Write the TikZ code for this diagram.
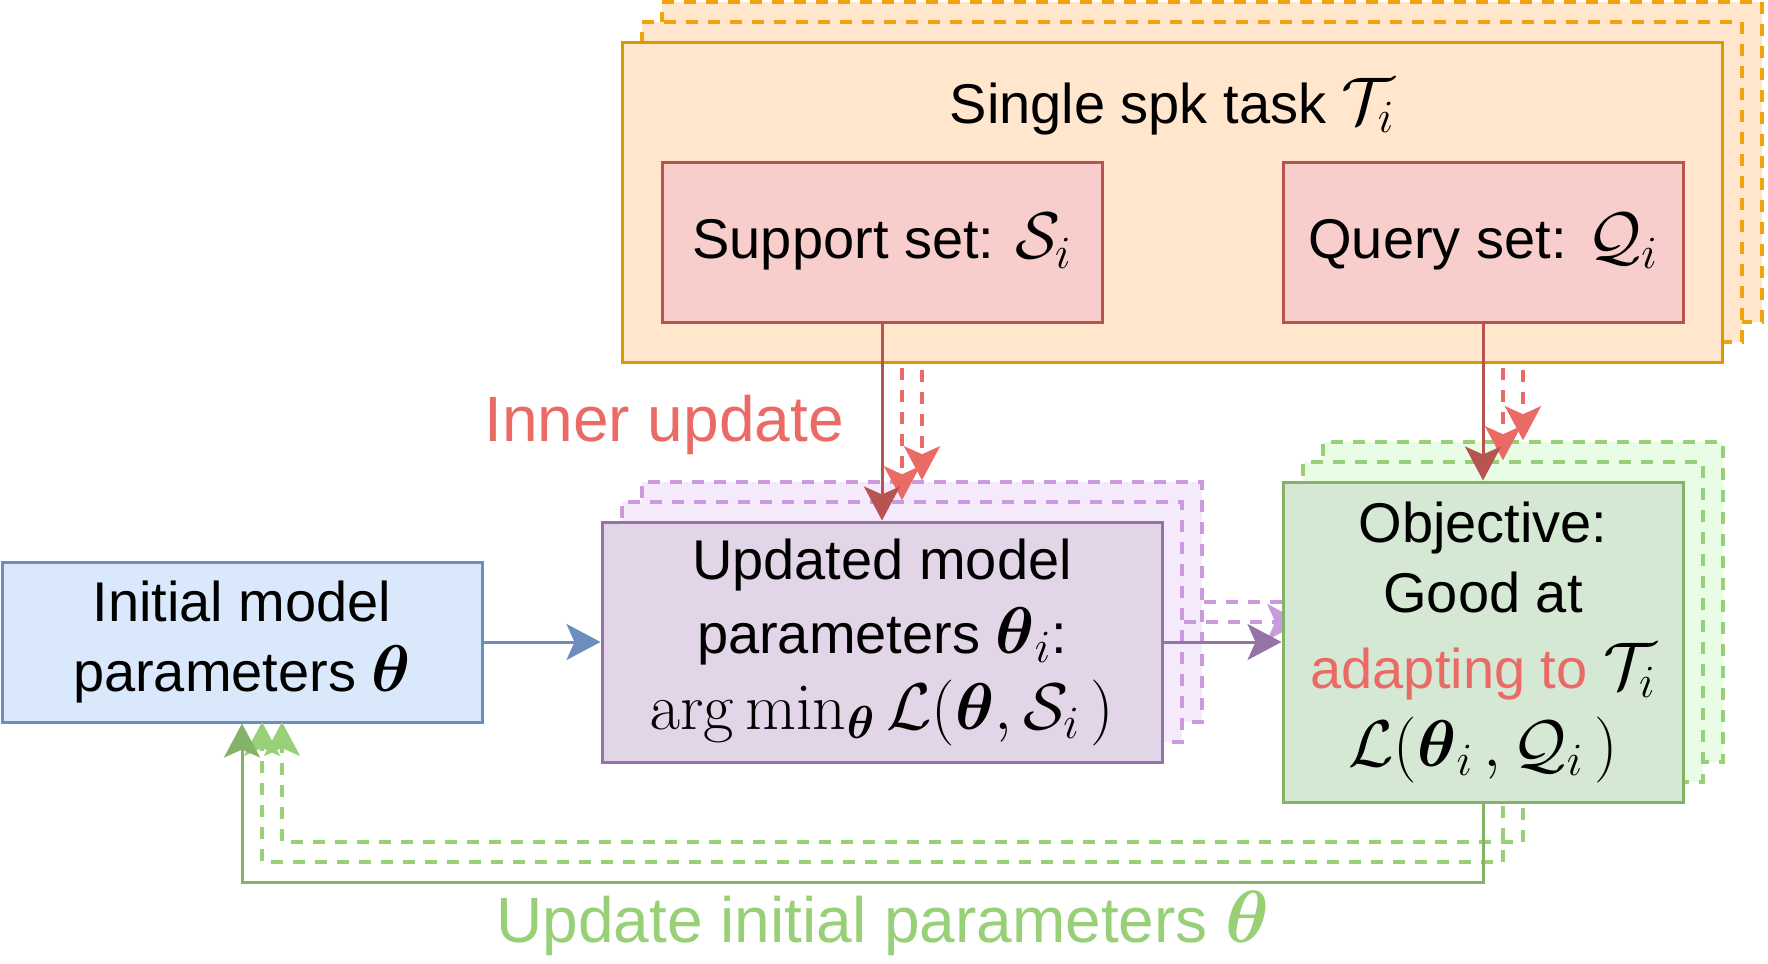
\RequirePackage{fix-cm}
\documentclass[tikz,border=0pt]{standalone}
\usepackage{amsmath}
\usepackage[no-math]{fontspec}
\setmainfont{Liberation Sans}
\usetikzlibrary{arrows.meta}
\newcommand\mymath[1]{{\fontsize{33}{35}\selectfont$#1$}}
\newcommand\mybigmath[1]{{\fontsize{37}{38}\selectfont$#1$}}
\definecolor{orfill}{HTML}{FFE6CC}
\definecolor{orline}{HTML}{D79B00}
\definecolor{ordash}{HTML}{F0A30A}
\definecolor{rdfill}{HTML}{F8CECC}
\definecolor{rdline}{HTML}{B85450}
\definecolor{rdlight}{HTML}{EA6B66}
\definecolor{pufill}{HTML}{E1D5E7}
\definecolor{puline}{HTML}{9673A6}
\definecolor{pulayer}{HTML}{F5EAFC}
\definecolor{pudash}{HTML}{C99BDD}
\definecolor{grfill}{HTML}{D5E8D4}
\definecolor{grline}{HTML}{82B366}
\definecolor{grlayer}{HTML}{E8FCE6}
\definecolor{grdash}{HTML}{97D077}
\definecolor{blfill}{HTML}{DAE8FC}
\definecolor{blline}{HTML}{6C8EBF}
\begin{document}
\begin{tikzpicture}[x=0.5pt,y=-0.5pt,
  box/.style={draw, line width=1.5pt, inner sep=0pt, align=center, font=\fontsize{28}{35}\selectfont},
  dsh/.style={line width=1.75pt, dash pattern=on 6pt off 5pt},
  tip/.style={line width=1.5pt, -{Stealth[length=17pt,width=18pt,inset=4pt]}},
  lbl/.style={inner sep=0pt, font=\fontsize{32}{38}\selectfont}]
\useasboundingbox (0,0) rectangle (1768,964);

% initial model box
\node[box, draw=blline, fill=blfill, minimum width=240pt, minimum height=80pt] (init) at (242,642) {Initial model\\parameters \mymath{\boldsymbol{\theta}}};

% back layers
\foreach \k/\d in {3/40,2/20}{
\begin{scope}[shift={(\d,-\d)}]
  \node[box, draw=ordash, dsh, fill=orfill, minimum width=550pt, minimum height=160pt] (o\k) at (1172,202) {};
  \coordinate (s\k) at (882,322);
  \coordinate (q\k) at (1483,322);
  \node[box, draw=pudash, dsh, fill=pulayer, minimum width=280pt, minimum height=120pt] (p\k) at (882,642) {};
  \node[box, draw=grdash, dsh, fill=grlayer, minimum width=200pt, minimum height=160pt] (g\k) at (1483,642) {};
  \draw[tip, rdlight, dsh] (s\k) -- (p\k.north);
  \draw[tip, rdlight, dsh] (q\k) -- (g\k.north);
  \draw[tip, pudash, dsh] (p\k.east) -- (g\k.west);
\end{scope}
}
\coordinate (e2) at (262,722);
\coordinate (e3) at (282,722);
\draw[tip, grdash, dsh] (g3.south) -- (1523,842) -- (282,842) -- (e3);
\draw[tip, grdash, dsh] (g2.south) -- (1503,862) -- (262,862) -- (e2);

% main layer
\node[box, draw=orline, fill=orfill, minimum width=550pt, minimum height=160pt] (task) at (1172,202) {};
\node[lbl, anchor=base, font=\fontsize{28}{35}\selectfont] (tasklbl) at (1172,123) {Single spk task \mymath{\mathcal{T}_i}};
\node[box, draw=rdline, fill=rdfill, minimum width=220pt, minimum height=80pt] (sup) at (882,242) {Support set: \mymath{\mathcal{S}_i}};
\node[box, draw=rdline, fill=rdfill, minimum width=200pt, minimum height=80pt] (qry) at (1483,242) {Query set: \mymath{\mathcal{Q}_i}};
\node[box, draw=puline, fill=pufill, minimum width=280pt, minimum height=120pt] (upd) at (882,642) {Updated model\\[2pt]parameters \mymath{\boldsymbol{\theta}_i}:\\[3pt]\mymath{\arg\min_{\boldsymbol{\theta}}\mathcal{L}(\boldsymbol{\theta},\mathcal{S}_i\,)}};
\node[box, draw=grline, fill=grfill, minimum width=200pt, minimum height=160pt] (obj) at (1483,642) {Objective:\\Good at\\[3pt]\textcolor{rdlight}{adapting to} \mymath{\mathcal{T}_i}\\[4pt]\mymath{\mathcal{L}(\boldsymbol{\theta}_i\,,\mathcal{Q}_i\,)}};

\draw[tip, rdline] (sup.south) -- (upd.north);
\draw[tip, rdline] (qry.south) -- (obj.north);
\draw[tip, blline] (init.east) -- (upd.west);
\draw[tip, puline] (upd.east) -- (obj.west);
\draw[tip, grline] (obj.south) -- (1483,882) -- (242,882) -- (init.south);

\node[lbl, anchor=base, text=rdlight] (inner) at (664,441) {Inner update};
\node[lbl, anchor=base, text=grdash] (outer) at (883,942) {Update initial parameters \mybigmath{\boldsymbol{\theta}}};
\end{tikzpicture}
\end{document}
